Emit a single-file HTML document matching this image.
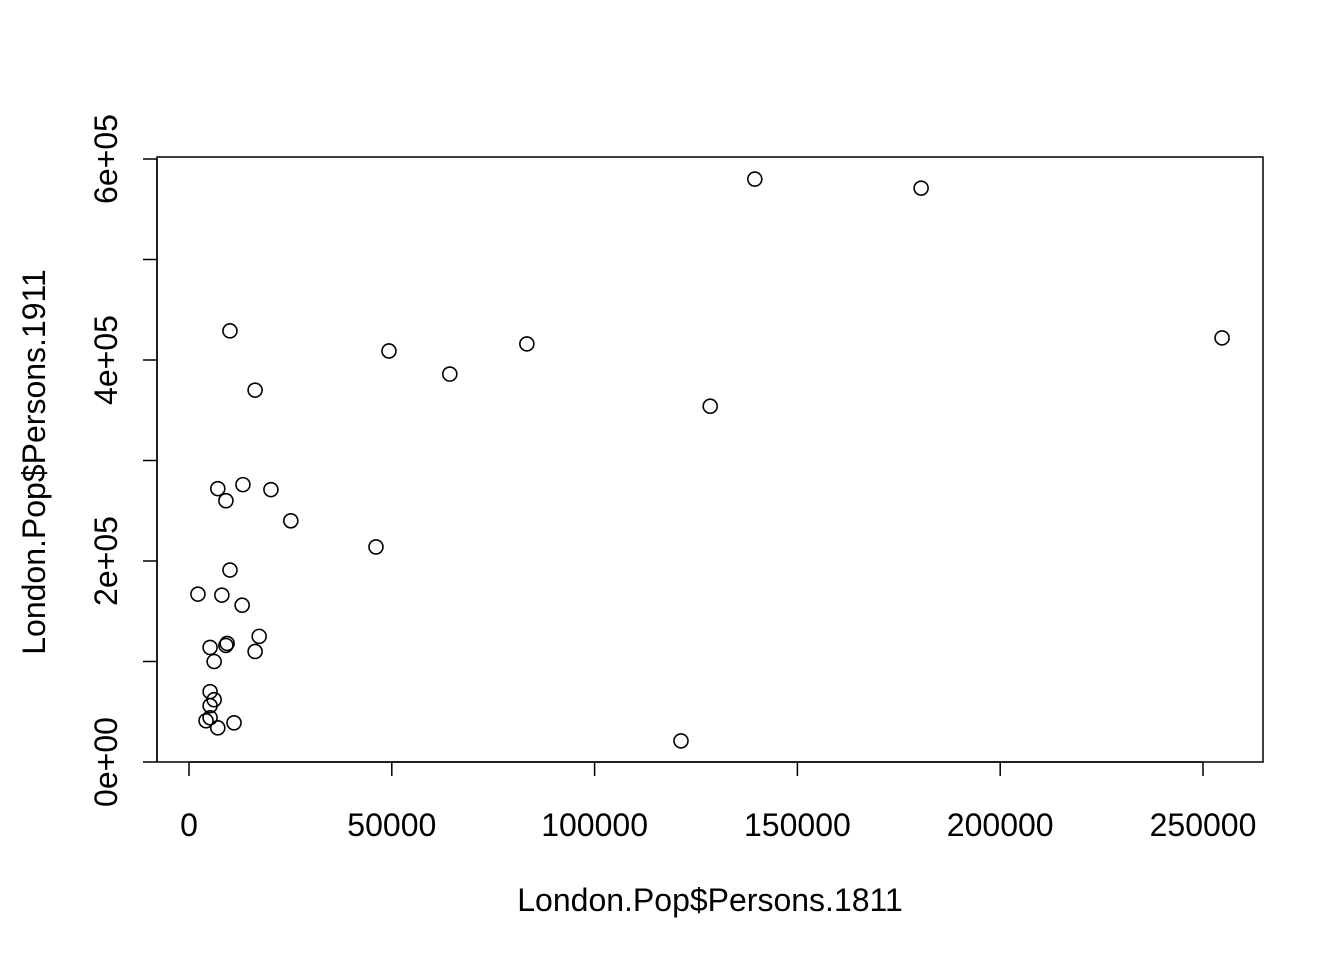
<!DOCTYPE html>
<html><head><meta charset="utf-8"><style>
html,body{margin:0;padding:0;background:#fff;}
svg{display:block;font-family:"Liberation Sans",Arial,sans-serif;}
</style></head><body>
<svg id="chart" width="1344" height="960" viewBox="0 0 1344 960">
<rect x="157" y="157" width="1106" height="605" fill="none" stroke="#000" stroke-width="1.5"/>
<g id="xaxis"></g>
<g id="yaxis"></g>
<g id="points"></g>
<text x="710" y="911" font-size="32" text-anchor="middle">London.Pop$Persons.1811</text>
<text x="0" y="0" font-size="32" text-anchor="middle" transform="translate(45,462) rotate(-90)">London.Pop$Persons.1911</text>
</svg>
<script>
const xVals=[139.5,180.5,254.7,10.1,49.3,83.3,64.3,128.5,16.3,7.1,13.3,20.2,9.1,25.1,46.1,10.1,2.2,8.1,13.1,17.3,9.4,9.1,5.2,16.3,6.2,5.2,6.2,5.2,4.2,5.2,11.1,7.1,121.3];
const yVals=[580,571,422,429,409,416,386,354,370,272,276,271,260,240,214,191,167,166,156,125,118,116,114,110,100,70,62,56,41,44,39,34,21];
const xTicks=[0,50000,100000,150000,200000,250000];
const xTickLabels=["0","50000","100000","150000","200000","250000"];
const yTicks=[0,100000,200000,300000,400000,500000,600000];
const yTickLabels=["0e+00","","2e+05","","4e+05","","6e+05"];
const NS="http://www.w3.org/2000/svg";
const sx=v=>189+v*(1014/250000);
const sy=v=>762-v*(603/600000);
function mk(tag,attrs,parent){const e=document.createElementNS(NS,tag);for(const k in attrs)e.setAttribute(k,attrs[k]);parent.appendChild(e);return e;}
const xa=document.getElementById('xaxis'),ya=document.getElementById('yaxis'),pg=document.getElementById('points');
mk('line',{x1:sx(0),x2:sx(250000),y1:762,y2:762,stroke:'#000','stroke-width':1.5},xa);
xTicks.forEach((t,i)=>{
 const l=mk('line',{x1:sx(t),x2:sx(t),y1:762,y2:776,stroke:'#000','stroke-width':1.5},xa);
 
 
 const tx=mk('text',{x:sx(t),y:836,'font-size':32,'text-anchor':'middle'},xa);
 tx.textContent=xTickLabels[i];
 
 
});
mk('line',{x1:157,x2:157,y1:sy(0),y2:sy(600000),stroke:'#000','stroke-width':1.5},ya);
yTicks.forEach((t,i)=>{
 const l=mk('line',{x1:143,x2:157,y1:sy(t),y2:sy(t),stroke:'#000','stroke-width':1.5},ya);
 
 
 if(yTickLabels[i]){
  const tx=mk('text',{x:0,y:0,'font-size':32,'text-anchor':'middle',transform:`translate(117,${sy(t)}) rotate(-90)`},ya);
  tx.textContent=yTickLabels[i];
  
  
 }
});
xVals.forEach((v,i)=>{
 const c=mk('circle',{cx:sx(v*1000),cy:sy(yVals[i]*1000),r:7,fill:'none',stroke:'#000','stroke-width':1.6},pg);
 
 
});
</script>
</body></html>
